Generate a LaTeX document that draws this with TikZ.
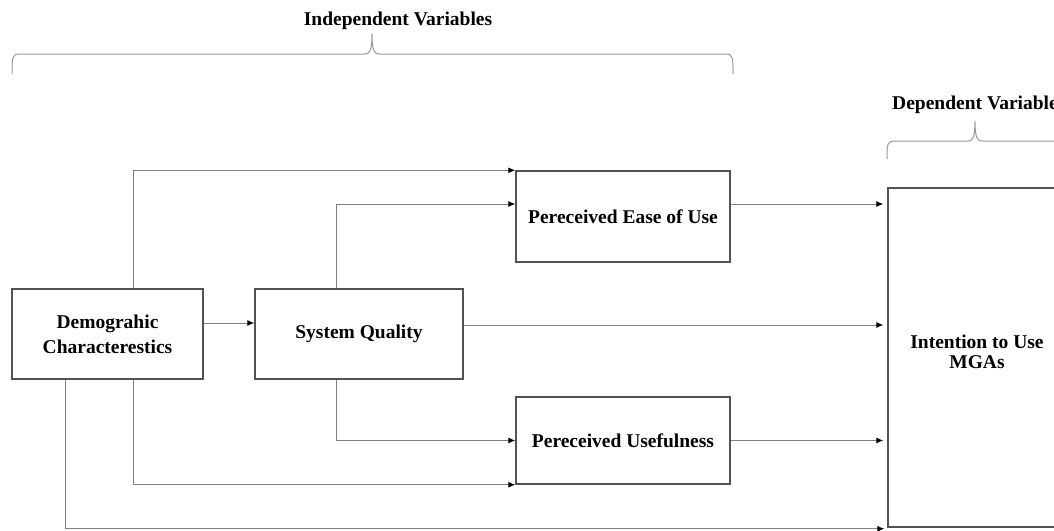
\documentclass[tikz,border=0pt]{standalone}
\usepackage{fontspec}
\setmainfont{Liberation Serif}
\usetikzlibrary{arrows.meta,positioning}
\tikzset{
  box/.style={draw=black!68, line width=1.4pt, fill=white, inner sep=0pt,
    font=\bfseries\fontsize{19.5}{25}\selectfont, align=center},
  conn/.style={draw=black!50, line width=0.9pt,
    -{Latex[length=7pt,width=6pt,black]}},
  bracestyle/.style={draw=black!40, line width=1pt},
  lbl/.style={font=\bfseries\fontsize{19.5}{24}\selectfont, inner sep=0pt}
}
\begin{document}
\begin{tikzpicture}[x=1pt,y=-1pt]
\useasboundingbox (0,0) rectangle (1054,530);
\clip (0,0) rectangle (1054,530);
% boxes
\node[box, minimum width=191pt, minimum height=90pt] (demo) at (107.5,334) {Demograhic\\Characterestics};
\node[box, minimum width=208pt, minimum height=90pt] (sq) at (359,334) {System Quality};
\node[box, minimum width=214pt, minimum height=91pt] (peou) at (623,216.5) {Pereceived Ease of Use};
\node[box, minimum width=214pt, minimum height=87pt] (pu) at (623,440.5) {Pereceived Usefulness};
\node[box, minimum width=178pt, minimum height=339pt] (intent) at (977,357.5) {};
\node[font=\bfseries\fontsize{19.5}{20.5}\selectfont, align=center, inner sep=0pt] (intenttext) at (977,352) {Intention to Use\\MGAs};
% labels
\node[lbl] (indep) at (398,21) {Independent Variables};
\node[lbl, anchor=west] (dep) at (892,105) {Dependent Variables};
% braces
\draw[bracestyle] (12,74) .. controls (12,57) and (12,54) .. (20,54) -- (365,54)
  .. controls (370,54) and (372,50) .. (372,34)
  .. controls (372,50) and (374,54) .. (379,54) -- (725,54)
  .. controls (733,54) and (733,57) .. (733,74);
\draw[bracestyle] (887,159) .. controls (887,144) and (887,141) .. (895,141) -- (968,141)
  .. controls (973,141) and (975,137) .. (975,121)
  .. controls (975,137) and (977,141) .. (982,141) -- (1058,141)
  .. controls (1066,141) and (1066,144) .. (1066,159);
% connectors
\draw[conn] ([xshift=25.5pt]demo.north) |- (peou.north west);
\draw[conn] ([xshift=-23pt]sq.north) |- ([yshift=12.5pt]peou.west);
\draw[conn] ([yshift=11pt]demo.east) -- ([yshift=11pt]sq.west);
\draw[conn, shorten >=4pt] ([yshift=9pt]sq.east) -- ([yshift=9pt]sq.east -| intent.west);
\draw[conn, shorten >=4pt] ([yshift=12.5pt]peou.east) -- ([yshift=12.5pt]peou.east -| intent.west);
\draw[conn] ([xshift=-23pt]sq.south) |- (pu.west);
\draw[conn] ([xshift=25.5pt]demo.south) |- (pu.south west);
\draw[conn, shorten >=4pt] (pu.east) -- (pu.east -| intent.west);
\draw[conn, shorten >=3pt] ([xshift=-42.5pt]demo.south) |- ([yshift=-1pt]intent.south west);
\end{tikzpicture}
\end{document}
